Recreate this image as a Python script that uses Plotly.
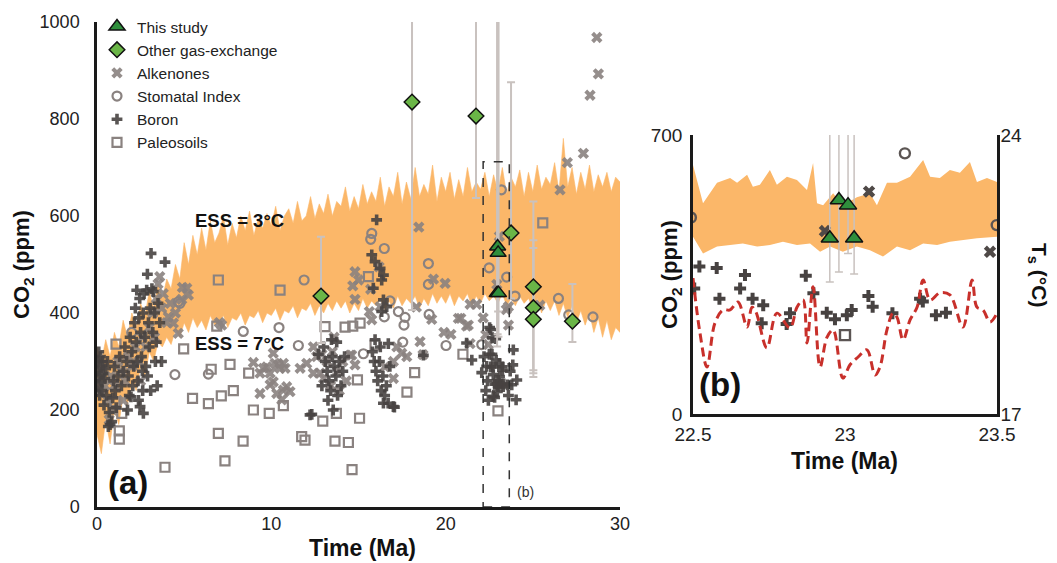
import plotly.graph_objects as go

# ---------------- data ----------------
# ESS band, panel (a): time grid 0..30 Ma every 0.25
band_t = [0.0, 0.25, 0.5, 0.75, 1.0, 1.25, 1.5, 1.75, 2.0, 2.25, 2.5, 2.75, 3.0, 3.25, 3.5, 3.75,
          4.0, 4.25, 4.5, 4.75, 5.0, 5.25, 5.5, 5.75, 6.0, 6.25, 6.5, 6.75, 7.0, 7.25, 7.5, 7.75,
          8.0, 8.25, 8.5, 8.75, 9.0, 9.25, 9.5, 9.75, 10.0, 10.25, 10.5, 10.75, 11.0, 11.25, 11.5, 11.75,
          12.0, 12.25, 12.5, 12.75, 13.0, 13.25, 13.5, 13.75, 14.0, 14.25, 14.5, 14.75, 15.0, 15.25, 15.5, 15.75,
          16.0, 16.25, 16.5, 16.75, 17.0, 17.25, 17.5, 17.75, 18.0, 18.25, 18.5, 18.75, 19.0, 19.25, 19.5, 19.75,
          20.0, 20.25, 20.5, 20.75, 21.0, 21.25, 21.5, 21.75, 22.0, 22.25, 22.5, 22.75, 23.0, 23.25, 23.5, 23.75,
          24.0, 24.25, 24.5, 24.75, 25.0, 25.25, 25.5, 25.75, 26.0, 26.25, 26.5, 26.75, 27.0, 27.25, 27.5, 27.75,
          28.0, 28.25, 28.5, 28.75, 29.0, 29.25, 29.5, 29.75, 30.0]
band_hi = [330, 300, 345, 310, 360, 330, 385, 350, 400, 370, 420, 395, 445, 410, 460, 430,
           470, 450, 500, 470, 545, 500, 560, 520, 575, 530, 590, 545, 565, 600, 540, 585,
           555, 600, 570, 610, 560, 595, 575, 605, 580, 620, 570, 600, 615, 585, 630, 590,
           600, 640, 595, 625, 605, 645, 600, 630, 620, 660, 610, 640, 615, 665, 625, 650,
           630, 680, 620, 660, 640, 690, 625, 670, 635, 700, 640, 665, 645, 705, 630, 680,
           650, 690, 635, 675, 640, 700, 650, 670, 655, 690, 640, 685, 650, 700, 645, 680,
           660, 695, 640, 690, 650, 705, 655, 680, 665, 710, 650, 760, 660, 700, 645, 690,
           655, 705, 650, 685, 660, 690, 650, 680, 670]
band_lo = [150, 110, 180, 130, 200, 170, 230, 210, 260, 240, 290, 270, 320, 300, 340, 330,
           350, 335, 365, 350, 380, 360, 390, 370, 385, 365, 395, 375, 380, 395, 370, 390,
           385, 400, 375, 395, 390, 405, 380, 400, 395, 410, 385, 405, 400, 415, 390, 410,
           405, 420, 395, 415, 400, 420, 405, 425, 410, 425, 400, 420, 405, 430, 410, 425,
           415, 430, 405, 425, 410, 435, 415, 430, 420, 435, 410, 430, 415, 440, 420, 435,
           420, 440, 415, 435, 425, 440, 415, 435, 420, 440, 425, 435, 420, 440, 415, 430,
           415, 435, 420, 430, 410, 430, 400, 425, 405, 425, 395, 420, 390, 415, 380, 405,
           375, 400, 360, 390, 350, 385, 345, 370, 360]

# ESS band, panel (b) (finer resolution)
bandb_hi_t = [22.500, 22.533, 22.579, 22.622, 22.645, 22.678, 22.697, 22.720, 22.753, 22.776, 22.809,
              22.842, 22.875, 22.895, 22.908, 22.928, 22.961, 22.993, 23.039, 23.082, 23.105, 23.138,
              23.171, 23.214, 23.257, 23.280, 23.312, 23.345, 23.378, 23.411, 23.434, 23.467, 23.500]
bandb_hi = [625, 529, 580, 592, 580, 600, 570, 575, 612, 575, 595, 587, 562, 630, 529, 524, 554,
            524, 544, 554, 524, 580, 580, 595, 637, 595, 592, 612, 605, 632, 582, 592, 582]
bandb_lo_t = [22.500, 22.533, 22.579, 22.622, 22.664, 22.711, 22.753, 22.796, 22.842, 22.885, 22.918,
              22.951, 22.993, 23.039, 23.082, 23.125, 23.171, 23.214, 23.257, 23.303, 23.345, 23.388,
              23.434, 23.500]
bandb_lo = [445, 403, 420, 424, 428, 420, 424, 432, 424, 428, 407, 420, 407, 420, 411, 395, 420,
            411, 428, 424, 432, 437, 441, 445]

# temperature (panel b, right axis)
temp_t = [22.500, 22.523, 22.546, 22.572, 22.599, 22.622, 22.648, 22.678, 22.694, 22.707, 22.743,
          22.776, 22.819, 22.842, 22.862, 22.875, 22.895, 22.918, 22.941, 22.961, 22.993, 23.016,
          23.043, 23.072, 23.099, 23.115, 23.138, 23.158, 23.171, 23.191, 23.214, 23.237, 23.257,
          23.280, 23.312, 23.345, 23.388, 23.418, 23.434, 23.454, 23.477, 23.500]
temp_c = [20.41, 19.03, 18.18, 19.28, 19.61, 19.61, 19.81, 19.18, 19.68, 19.56, 18.66,
          19.53, 19.16, 19.68, 19.86, 18.78, 20.19, 18.18, 18.93, 19.11, 17.90, 18.23,
          18.43, 18.61, 17.98, 18.18, 19.11, 19.53, 19.43, 18.86, 19.36, 19.68, 20.36,
          19.86, 20.04, 19.99, 19.18, 20.36, 19.68, 19.61, 19.31, 19.53]

# This study (leaf gas-exchange)
study_t = [22.95, 22.98, 23.01, 23.03]
study_co2 = [441, 537, 524, 441]
study_hi = [1250, 1250, 1250, 1250]
study_lo = [331, 356, 403, 351]

# Other gas-exchange
gas_t = [12.85, 18.07, 21.74, 23.75, 25.03, 25.03, 25.03, 27.27]
gas_co2 = [435, 835, 806, 565, 454, 411, 387, 383]
gas_hi = [557, 1250, 1250, 876, 630, 550, 534, 460]
gas_lo = [338, 406, 637, 430, 282, 276, 268, 340]

# Alkenones
alk_t = [26.56, 26.98, 27.90, 28.28, 28.76, 28.67,
         18.46, 19.30, 19.97, 18.32, 20.73, 21.20, 19.90, 20.30, 18.53, 18.70, 21.40, 21.40, 21.78,
         20.87, 21.30, 22.934, 23.079, 23.477, 23.60, 23.60, 25.40, 19.20, 17.20, 17.48, 17.77, 17.00,
         16.52, 17.00, 16.24, 15.62, 16.18, 15.70, 14.80, 15.00, 14.67, 14.80, 15.76, 14.52, 14.80,
         14.61, 12.41, 10.69, 11.65, 12.03, 12.41, 11.07, 10.69, 12.60, 12.80, 8.97, 9.74, 10.40,
         10.79, 9.35, 10.11, 10.88, 9.35, 10.31, 9.93, 10.60, 9.54, 9.93, 10.21, 10.50, 10.11, 7.15,
         7.02, 5.15, 5.24, 3.71, 4.09, 4.38, 4.66, 22.15, 22.30, 22.45,
         13.2, 13.5, 13.8, 14.1, 13.0, 13.4, 13.9, 14.3, 12.9, 13.6,
         0.05, 0.10, 0.20, 0.30, 0.45, 0.60, 0.80, 1.00, 1.20, 1.40, 1.60, 1.80, 2.00, 2.20, 2.40,
         2.60, 2.80, 3.00, 3.20, 3.40, 3.50, 3.60, 3.30, 2.50, 1.50, 0.90, 0.70, 3.80, 4.20, 4.00,
         4.90, 4.86, 4.50]
alk_co2 = [654, 710, 729, 849, 893, 968,
           577, 470, 461, 412, 389, 373, 360, 356, 341, 314, 337, 418, 418,
           389, 375, 459, 558, 407, 413, 375, 416, 387, 330, 317, 310, 300,
           289, 265, 413, 403, 495, 449, 485, 468, 456, 428, 386, 313, 293,
           313, 330, 296, 286, 296, 276, 238, 241, 310, 276, 298, 289, 293,
           286, 276, 258, 248, 234, 234, 252, 221, 286, 276, 296, 286, 317, 375,
           380, 451, 437, 410, 392, 379, 358, 390, 355, 335,
           300, 320, 280, 300, 265, 250, 240, 260, 315, 350,
           260, 300, 240, 280, 250, 220, 270, 250, 300, 280, 260, 310, 290, 330, 300,
           350, 330, 370, 400, 430, 460, 475, 350, 260, 220, 200, 180, 440, 420, 380,
           453, 428, 400]

# Stomatal index
sto_t = [1.99, 4.47, 4.66, 4.76, 6.39, 8.39, 10.44, 11.55, 11.88, 15.28, 15.70, 15.76, 16.48, 16.48,
         16.81, 17.29, 17.54, 17.61, 17.67, 19.01, 19.01, 19.05, 20.02, 22.07, 22.493, 23.197, 23.499,
         23.98, 26.47, 27.06, 28.45]
sto_co2 = [360, 273, 423, 420, 274, 362, 370, 333, 468, 316, 552, 564, 533, 392,
           425, 403, 340, 375, 391, 502, 459, 397, 333, 335, 493, 654, 474,
           435, 430, 396, 392]

# Boron
bor_t = [0.02, 0.05, 0.08, 0.10, 0.12, 0.15, 0.18, 0.20, 0.25, 0.28, 0.32, 0.35, 0.40, 0.45, 0.50,
         0.55, 0.60, 0.65, 0.70, 0.75, 0.84, 0.90, 0.95, 1.00, 1.05, 1.10, 1.20, 1.30, 1.40, 1.50,
         1.60, 1.70, 1.75, 1.80, 1.85, 1.90, 1.95, 2.00, 2.05, 2.10, 2.15, 2.20, 2.25, 2.28, 2.30,
         2.35, 2.38, 2.40, 2.45, 2.47, 2.50, 2.55, 2.60, 2.62, 2.66, 2.65, 2.70, 2.75, 2.80, 2.85,
         2.89, 2.90, 2.95, 3.00, 3.05, 3.08, 3.10, 3.15, 3.20, 3.23, 3.30, 3.35, 3.40, 3.45, 3.50,
         3.60, 3.70, 3.90,
         16.04, 15.76, 15.95, 16.24, 16.43, 16.33, 15.85, 16.43, 16.62, 16.33, 12.32, 17.06, 16.71,
         18.72, 12.70, 12.22, 16.43, 17.00, 21.20, 21.50,
         13.0, 13.1, 13.2, 13.3, 13.4, 13.5, 13.6, 13.7, 13.8, 13.9, 14.0, 14.1, 13.25, 13.55, 13.75,
         13.45, 12.9, 14.2,
         15.8, 15.9, 16.0, 16.1, 16.2, 16.3, 16.4, 16.5, 16.6, 16.7, 16.8, 15.95, 16.25,
         22.521, 22.578, 22.671, 22.871, 22.504, 22.655, 22.896, 22.587, 22.696, 22.731, 22.726,
         22.808, 22.819, 23.077, 23.091, 23.247, 23.256, 22.940, 22.967, 23.006, 23.022, 23.156,
         23.299, 23.332,
         22.07, 22.20, 22.35, 22.40, 23.55, 23.79, 24.08, 24.04, 23.88, 23.85, 23.60, 23.70, 22.30,
         22.45]
bor_co2 = [280, 300, 250, 320, 270, 230, 290, 310, 260, 240, 300, 275, 210, 265, 285,
           230, 300, 166, 195, 170, 176, 225, 260, 290, 240, 205, 270, 310, 250, 280,
           330, 300, 200, 270, 230, 350, 227, 320, 250, 290, 380, 410, 340, 447, 300,
           260, 220, 390, 430, 207, 360, 310, 280, 240, 193, 400, 440, 350, 290, 447,
           480, 270, 380, 330, 410, 240, 523, 450, 360, 444, 400, 300, 340, 250, 420,
           380, 300, 505,
           592, 520, 506, 492, 478, 468, 451, 427, 413, 403, 191, 206, 337,
           313, 315, 190, 214, 207, 338, 303,
           330, 300, 280, 260, 240, 310, 290, 270, 230, 300, 250, 280, 220, 200, 340,
           345, 250, 310,
           320, 300, 280, 260, 300, 240, 270, 230, 250, 214, 290, 345, 330,
           370, 366, 349, 347, 315, 315, 303, 289, 289, 273, 228,
           226, 253, 296, 269, 289, 282, 254, 238, 248, 261, 253,
           248, 254,
           277, 310, 290, 260, 252, 252, 262, 221, 324, 293, 230, 280, 240,
           220]

# Paleosols
pal_t = [1.03, 1.09, 1.28, 1.28, 1.42, 3.90, 4.97, 5.48, 6.39, 6.55, 6.87, 6.96, 6.96, 7.13, 7.34,
         7.63, 7.82, 8.38, 8.70, 8.97, 9.88, 10.50, 10.69, 11.74, 11.93, 12.95, 13.08, 13.65, 13.73,
         14.23, 14.42, 14.63, 14.67, 14.94, 15.06, 15.09, 15.57, 15.95, 17.78, 18.22, 20.99, 23.00,
         25.57]
pal_co2 = [217, 336, 157, 140, 193, 82, 326, 224, 213, 284, 373, 468, 152, 229, 95,
           294, 240, 136, 276, 200, 193, 447, 209, 145, 138, 177, 372, 136, 193,
           371, 133, 77, 373, 262, 183, 379, 475, 334, 237, 277, 315, 198,
           586]

# ---------------- styling ----------------
FONT = "Liberation Sans, Arial, sans-serif"
ORANGE = "#fbb769"
GRAY = "#8a8280"
DARK = "#474241"
ERR = "#c9c2bf"
GREEN_T = "#2f8f3c"
GREEN_D = "#6ab547"

fig = go.Figure()

# ---- panel (a) ----
fig.add_trace(go.Scatter(
    x=band_t + band_t[::-1], y=band_hi + band_lo[::-1],
    fill="toself", fillcolor=ORANGE, line=dict(width=0.6, color=ORANGE),
    mode="lines", hoverinfo="skip", showlegend=False, xaxis="x", yaxis="y"))

fig.add_trace(go.Scatter(
    x=pal_t, y=pal_co2, mode="markers", name="Paleosoils", legendrank=6,
    marker=dict(symbol="square-open", size=9, color=GRAY, line=dict(width=2.2, color=GRAY)),
    xaxis="x", yaxis="y"))
fig.add_trace(go.Scatter(
    x=sto_t, y=sto_co2, mode="markers", name="Stomatal Index", legendrank=4,
    marker=dict(symbol="circle-open", size=9, color=GRAY, line=dict(width=2.2, color=GRAY)),
    xaxis="x", yaxis="y"))
fig.add_trace(go.Scatter(
    x=alk_t, y=alk_co2, mode="markers", name="Alkenones", legendrank=3,
    marker=dict(symbol="x", size=10, color=GRAY, opacity=0.9, line=dict(width=0)),
    xaxis="x", yaxis="y"))
fig.add_trace(go.Scatter(
    x=bor_t, y=bor_co2, mode="markers", name="Boron", legendrank=5,
    marker=dict(symbol="cross", size=9, color=DARK, opacity=0.9, line=dict(width=0)),
    xaxis="x", yaxis="y"))
fig.add_trace(go.Scatter(
    x=gas_t, y=gas_co2, mode="markers", name="Other gas-exchange", legendrank=2,
    marker=dict(symbol="diamond", size=12, color=GREEN_D, line=dict(width=1.5, color="#111")),
    error_y=dict(type="data", symmetric=False,
                 array=[h - v for h, v in zip(gas_hi, gas_co2)],
                 arrayminus=[v - l for v, l in zip(gas_co2, gas_lo)],
                 color=ERR, thickness=2, width=4),
    xaxis="x", yaxis="y"))
fig.add_trace(go.Scatter(
    x=study_t, y=study_co2, mode="markers", name="This study", legendrank=1,
    marker=dict(symbol="triangle-up", size=14, color=GREEN_T, line=dict(width=1.5, color="#111")),
    error_y=dict(type="data", symmetric=False,
                 array=[h - v for h, v in zip(study_hi, study_co2)],
                 arrayminus=[v - l for v, l in zip(study_co2, study_lo)],
                 color=ERR, thickness=2, width=4),
    xaxis="x", yaxis="y"))

# ---- panel (b) ----
fig.add_trace(go.Scatter(
    x=bandb_hi_t + bandb_lo_t[::-1], y=bandb_hi + bandb_lo[::-1],
    fill="toself", fillcolor=ORANGE, line=dict(width=0, color=ORANGE),
    mode="lines", hoverinfo="skip", showlegend=False, xaxis="x2", yaxis="y2"))
fig.add_trace(go.Scatter(
    x=temp_t, y=temp_c, mode="lines", showlegend=False,
    line=dict(color="#c8302b", width=3, dash="9px,5px", shape="spline"),
    xaxis="x2", yaxis="y3"))
fig.add_trace(go.Scatter(
    x=pal_t, y=pal_co2, mode="markers", showlegend=False,
    marker=dict(symbol="square-open", size=10, color="#5b5553", line=dict(width=2.4, color="#5b5553")),
    xaxis="x2", yaxis="y2"))
fig.add_trace(go.Scatter(
    x=sto_t, y=sto_co2, mode="markers", showlegend=False,
    marker=dict(symbol="circle-open", size=10, color="#5b5553", line=dict(width=2.4, color="#5b5553")),
    xaxis="x2", yaxis="y2"))
fig.add_trace(go.Scatter(
    x=alk_t, y=alk_co2, mode="markers", showlegend=False,
    marker=dict(symbol="x", size=11, color="#4f4947", line=dict(width=0)),
    xaxis="x2", yaxis="y2"))
fig.add_trace(go.Scatter(
    x=bor_t, y=bor_co2, mode="markers", showlegend=False,
    marker=dict(symbol="cross", size=10, color=DARK, line=dict(width=0)),
    xaxis="x2", yaxis="y2"))
fig.add_trace(go.Scatter(
    x=study_t, y=study_co2, mode="markers", showlegend=False,
    marker=dict(symbol="triangle-up", size=15, color=GREEN_T, line=dict(width=1.5, color="#111")),
    error_y=dict(type="data", symmetric=False,
                 array=[h - v for h, v in zip(study_hi, study_co2)],
                 arrayminus=[v - l for v, l in zip(study_co2, study_lo)],
                 color=ERR, thickness=1.5, width=4),
    xaxis="x2", yaxis="y2"))

# page body has an 8px margin, so the figure is drawn 8px in from the corner
OX, OY = 8, 8
W, H = 1057 - OX, 563 - OY


def px(x):
    return (x - OX) / W


def py(y):
    return 1 - (y - OY) / H


def axis_common(size):
    return dict(showgrid=False, zeroline=False, ticks="", showline=True, automargin=False,
                linecolor="#1a1a1a", linewidth=2.5,
                tickfont=dict(family=FONT, size=size, color="#222"))


fig.update_layout(
    width=W, height=H,
    margin=dict(l=0, r=0, t=0, b=0, autoexpand=False),
    paper_bgcolor="white", plot_bgcolor="white",
    font=dict(family=FONT, color="#222"),
    xaxis=dict(domain=[px(97), px(620)], range=[0, 30], tickvals=[0, 10, 20, 30],
               anchor="y", ticklabelstandoff=-1, **axis_common(18)),
    yaxis=dict(domain=[py(507), py(22)], range=[0, 1000], tickvals=[0, 200, 400, 600, 800, 1000],
               anchor="x", ticklabelstandoff=11, **axis_common(18)),
    xaxis2=dict(domain=[px(693), px(997)], range=[22.5, 23.5], tickvals=[22.5, 23, 23.5],
                ticktext=["22.5", "23", "23.5"], anchor="y2", ticklabelstandoff=1, **axis_common(19)),
    yaxis2=dict(domain=[py(414), py(135)], range=[0, 700], tickvals=[0, 700],
                anchor="x2", ticklabelstandoff=4, **axis_common(19)),
    yaxis3=dict(range=[17, 24], tickvals=[17, 24], overlaying="y2", side="right",
                anchor="x2", ticklabelstandoff=-3, **axis_common(19)),
    legend=dict(x=px(97), y=py(10), xanchor="left", yanchor="top",
                bgcolor="rgba(0,0,0,0)", font=dict(family=FONT, size=15.5, color="#222"),
                itemwidth=30, tracegroupgap=0),
    showlegend=True,
)

# dashed box marking panel (b) window
fig.add_shape(type="rect", xref="x", yref="y", x0=22.15, x1=23.65, y0=0, y1=712,
              line=dict(color="#333", width=1.5, dash="dash"))


def note(x, y, text, size, ref="paper", angle=0, color="#111"):
    if ref == "paper":
        x, y = px(x), py(y)
    return dict(x=x, y=y, xref=ref if ref == "paper" else "x", yref=ref if ref == "paper" else "y",
                text=text, textangle=angle, showarrow=False, xanchor="center", yanchor="middle",
                font=dict(family=FONT, size=size, color=color))


ann = [
    note(8.15, 590, "<b>ESS = 3°C</b>", 18.5, ref="data"),
    note(8.15, 338, "<b>ESS = 7°C</b>", 18.5, ref="data"),
    note(24.6, 31, "(b)", 14, ref="data", color="#333"),
    note(128, 482, "<b>(a)</b>", 33),
    note(720, 385, "<b>(b)</b>", 33),
    note(23, 265, "<b>CO<sub>2</sub> (ppm)</b>", 22, angle=-90),
    note(362, 548, "<b>Time (Ma)</b>", 23),
    note(671, 275, "<b>CO<sub>2</sub> (ppm)</b>", 22, angle=-90),
    note(1038, 275, "<b>T<sub>s</sub> (°C)</b>", 21, angle=90),
    note(844, 461, "<b>Time (Ma)</b>", 23),
]
fig.update_layout(annotations=ann)

fig.write_html("out.html")
